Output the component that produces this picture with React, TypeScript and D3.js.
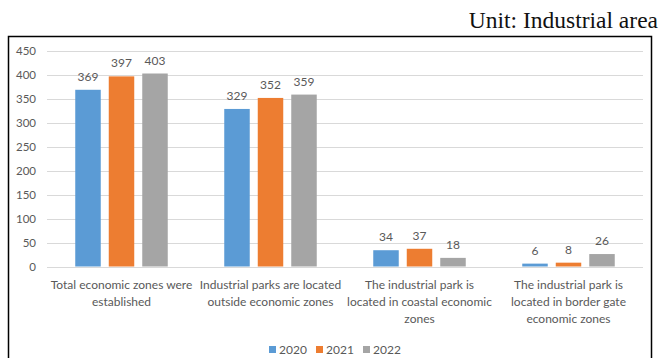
import React from "react";
import * as d3 from "d3";

const categories = [
  ["Total economic zones were", "established"],
  ["Industrial parks are located", "outside economic zones"],
  ["The industrial park is", "located in coastal economic", "zones"],
  ["The industrial park is", "located in border gate", "economic zones"],
];
const series = ["2020", "2021", "2022"];
const values2020 = [369, 329, 34, 6];
const values2021 = [397, 352, 37, 8];
const values2022 = [403, 359, 18, 26];
const yTicks = [0, 50, 100, 150, 200, 250, 300, 350, 400, 450];
const colors = ["#5B9BD5", "#ED7D31", "#A5A5A5"];

const W = 659;
const H = 358;
const font = "Lato, 'Open Sans', sans-serif";

export default function App() {
  const allValues = [values2020, values2021, values2022];
  const plotLeft = 47;
  const plotRight = 643;
  const y = d3.scaleLinear().domain([0, 450]).range([266.5, 51]);
  const x0 = d3
    .scaleBand<number>()
    .domain(categories.map((_, i) => i))
    .range([plotLeft, plotRight]);
  const x1 = d3
    .scaleBand<number>()
    .domain(series.map((_, i) => i))
    .range([-46.25, 46.25])
    .paddingInner(0.239);

  const legendItems = series.map((s, i) => ({ s, i }));
  const legendX = d3.scaleLinear().domain([0, 1]).range([269, 316]);

  return (
    <svg
      width={W}
      height={H}
      style={{ position: "absolute", left: 0, top: 0 }}
      fontFamily={font}
    >
      <rect x={0} y={0} width={W} height={H} fill="#fff" />
      <text
        x={658}
        y={28}
        textAnchor="end"
        fontFamily="'Liberation Serif', 'Times New Roman', serif"
        fontSize={23.5}
        fill="#111"
      >
        Unit: Industrial area
      </text>
      <rect
        x={8.5}
        y={36.5}
        width={643}
        height={340}
        fill="none"
        stroke="#000"
        strokeWidth={1.5}
      />
      {yTicks.map((t) => (
        <g key={t}>
          <line
            x1={plotLeft}
            x2={plotRight}
            y1={Math.round(y(t)) + 0.5}
            y2={Math.round(y(t)) + 0.5}
            stroke="#D9D9D9"
            strokeWidth={1}
          />
          <text
            x={36}
            y={y(t)}
            dy="0.35em"
            textAnchor="end"
            fontSize={11.5}
            fill="#595959"
          >
            {t}
          </text>
        </g>
      ))}
      {categories.map((lines, ci) => {
        const cx = (x0(ci) as number) + x0.bandwidth() / 2;
        return (
          <g key={ci}>
            {allValues.map((vals, si) => {
              const bx = cx + (x1(si) as number);
              const v = vals[ci];
              return (
                <g key={si}>
                  <rect
                    x={bx}
                    y={y(v)}
                    width={x1.bandwidth()}
                    height={y(0) - y(v)}
                    fill={colors[si]}
                  />
                  <text
                    x={bx + x1.bandwidth() / 2}
                    y={y(v) - 9}
                    textAnchor="middle"
                    fontSize={12}
                    fill="#595959"
                  >
                    {v}
                  </text>
                </g>
              );
            })}
            {lines.map((ln, li) => (
              <text
                key={li}
                x={cx}
                y={285 + li * 17}
                dy="0.35em"
                textAnchor="middle"
                fontSize={12}
                fill="#595959"
              >
                {ln}
              </text>
            ))}
          </g>
        );
      })}
      {legendItems.map(({ s, i }) => (
        <g key={s} transform={`translate(${legendX(i)},0)`}>
          <rect x={0} y={346} width={7} height={7} fill={colors[i]} />
          <text x={10} y={350} dy="0.35em" fontSize={12} fill="#595959">
            {s}
          </text>
        </g>
      ))}
    </svg>
  );
}
